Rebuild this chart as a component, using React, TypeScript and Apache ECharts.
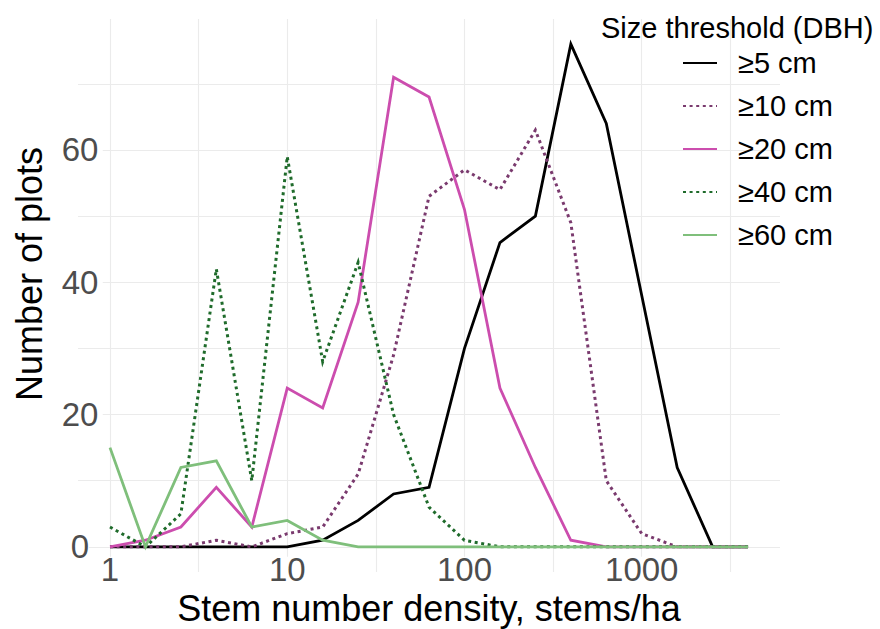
import React, { useEffect, useRef } from 'react';
import * as echarts from 'echarts';

// Stem number density classes (stems/ha)
const densities = [1, 1.585, 2.512, 3.981, 6.31, 10, 15.85, 25.12, 39.81, 63.1, 100, 158.5, 251.2, 398.1, 631, 1000, 1585, 2512, 3981];

const seriesNames = ['≥5 cm', '≥10 cm', '≥20 cm', '≥40 cm', '≥60 cm'];
const ge5 = [0, 0, 0, 0, 0, 0, 1, 4, 8, 9, 30, 46, 50, 76, 64, 38, 12, 0, 0];
const ge10 = [0, 0, 0, 1, 0, 2, 3, 11, 29, 53, 57, 54, 63, 49, 10, 2, 0, 0, 0];
const ge20 = [0, 1, 3, 9, 3, 24, 21, 37, 71, 68, 51, 24, 12, 1, 0, 0, 0, 0, 0];
const ge40 = [3, 0, 5, 42, 10, 59, 28, 43, 20, 6, 1, 0, 0, 0, 0, 0, 0, 0, 0];
const ge60 = [15, 0, 12, 13, 3, 4, 1, 0, 0, 0, 0, 0, 0, 0, 0, 0, 0, 0, 0];

const xMajorTicks = [1, 10, 100, 1000];
const xMinorGrid = [3.162, 31.62, 316.2, 3162];
const yMajorTicks = [0, 20, 40, 60];
const yMinorGrid = [10, 30, 50, 70];

const X_MIN = 0.66;
const X_MAX = 6026;
const Y_MIN = -3.8;
const Y_MAX = 79.8;

const FONT = '"Liberation Sans", Arial, Helvetica, sans-serif';
const GRID_COLOR = '#EBEBEB';

export default function App() {
  const ref = useRef<HTMLDivElement>(null);

  useEffect(() => {
    if (!ref.current) return;
    const chart = echarts.init(ref.current, undefined, { renderer: 'svg' });

    const values = [ge5, ge10, ge20, ge40, ge60];
    const colors = ['#000000', '#7A3A6E', '#CC4DAE', '#1F6B2B', '#7FBF7B'];
    const dotted = [false, true, false, true, false];

    const dataSeries = seriesNames.map((name, s) => ({
      name,
      type: 'line',
      symbol: 'none',
      z: 2 + s * 0.01,
      silent: true,
      data: densities.map((d, i) => [d, values[s][i]]),
      itemStyle: { color: colors[s] },
      lineStyle: {
        color: colors[s],
        width: dotted[s] ? 3 : 2.8,
        type: dotted[s] ? [3, 3.6] : 'solid',
        cap: 'butt',
        join: 'miter',
      },
    }));

    const gridLines: any[] = [];
    xMajorTicks.forEach((v) => gridLines.push([{ coord: [v, -1.5] }, { coord: [v, Y_MAX] }]));
    xMinorGrid.forEach((v) => gridLines.push({ xAxis: v }));
    yMajorTicks.forEach((v) => gridLines.push([{ coord: [v === 0 ? 0.76 : 0.91, v] }, { coord: [X_MAX, v] }]));
    yMinorGrid.forEach((v) => gridLines.push({ yAxis: v }));

    const helper = {
      name: '__grid',
      type: 'line',
      symbol: 'none',
      z: 0,
      silent: true,
      data: [[1, 0]],
      lineStyle: { opacity: 0 },
      markLine: {
        silent: true,
        z: 0,
        symbol: ['none', 'none'],
        label: { show: false },
        emphasis: { disabled: true },
        lineStyle: { color: GRID_COLOR, width: 1.1, type: 'solid' },
        data: gridLines,
      },
    };

    const xFmt = (v: number) => {
      const l = Math.log10(v);
      const r = Math.round(l);
      if (Math.abs(l - r) < 1e-6 && r >= 0 && r <= 3) return String(Math.round(v));
      return '';
    };
    const yFmt = (v: number) => (yMajorTicks.indexOf(v) >= 0 ? String(v) : '');

    chart.setOption({
      animation: false,
      backgroundColor: '#ffffff',
      textStyle: { fontFamily: FONT },
      grid: { left: 78, right: 100, top: 19, bottom: 57, containLabel: false, outerBoundsMode: 'none' },
      xAxis: {
        type: 'log',
        logBase: 10,
        min: X_MIN,
        max: X_MAX,
        axisLine: { show: false },
        axisTick: { show: false },
        splitLine: { show: false },
        minorTick: { show: false },
        minorSplitLine: { show: false },
        axisLabel: {
          margin: -19,
          color: '#4D4D4D',
          fontSize: 33,
          fontFamily: FONT,
          formatter: xFmt,
          hideOverlap: false,
        },
      },
      yAxis: {
        type: 'value',
        min: Y_MIN,
        max: Y_MAX,
        axisLine: { show: false },
        axisTick: { show: false },
        splitLine: { show: false },
        axisLabel: {
          margin: -2,
          align: 'center',
          color: '#4D4D4D',
          fontSize: 33,
          fontFamily: FONT,
          formatter: yFmt,
          padding: [0, 0, 6, 0],
          hideOverlap: false,
        },
      },
      legend: {
        data: seriesNames,
        orient: 'vertical',
        left: 682,
        top: 48,
        padding: 0,
        itemWidth: 34,
        itemHeight: 16,
        itemGap: 13,
        selectedMode: false,
        itemStyle: { opacity: 0, borderWidth: 0 },
        textStyle: {
          fontSize: 29,
          lineHeight: 30,
          color: '#000000',
          fontFamily: FONT,
          padding: [0, 0, 0, 16],
        },
      },
      graphic: [
        {
          type: 'text',
          x: 29,
          y: 274,
          rotation: Math.PI / 2,
          style: { text: 'Number of plots', fontSize: 36, fontFamily: FONT, fill: '#000000', align: 'center', verticalAlign: 'middle' },
        },
        {
          type: 'text',
          x: 429,
          y: 608,
          style: { text: 'Stem number density, stems/ha', fontSize: 36, fontFamily: FONT, fill: '#000000', align: 'center', verticalAlign: 'middle' },
        },
        {
          type: 'text',
          x: 601,
          y: 28,
          style: { text: 'Size threshold (DBH)', fontSize: 29, fontFamily: FONT, fill: '#000000', align: 'left', verticalAlign: 'middle' },
        },
      ],
      series: [helper, ...dataSeries],
    });

    return () => chart.dispose();
  }, []);

  return <div ref={ref} style={{ position: 'fixed', left: 0, top: 0, width: 880, height: 629 }} />;
}
